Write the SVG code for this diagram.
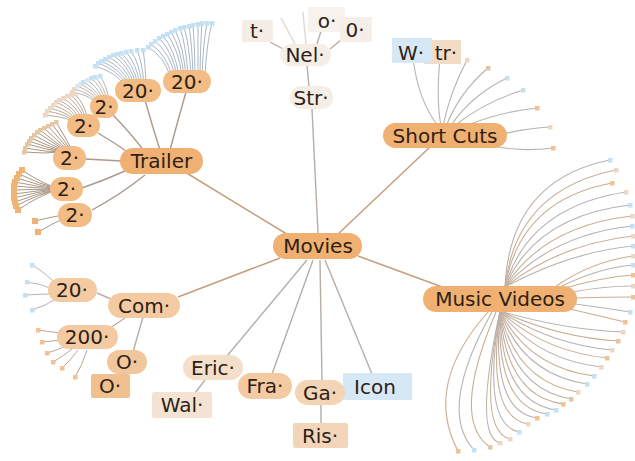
<svg xmlns="http://www.w3.org/2000/svg" width="635" height="461" viewBox="0 0 635 461">
<style>
.e{fill:none;stroke:#C49F7E;stroke-width:1.5}
.g{fill:none;stroke:#B7AEA6;stroke-width:1.4}
.gl{fill:none;stroke:#DDD6CF;stroke-width:1.3}
.tc{fill:none;stroke:#A89A8C;stroke-width:1.4}
.fb{fill:none;stroke:#A9B7C4;stroke-width:1}
.fc{fill:none;stroke:#B9B3AD;stroke-width:1}
.fd{fill:none;stroke:#B8A898;stroke-width:1}
.fe{fill:none;stroke:#A8957F;stroke-width:1}
.ff{fill:none;stroke:#A89886;stroke-width:1}
.f1{fill:none;stroke:#B8B2AC;stroke-width:1.1}
.f2{fill:none;stroke:#C9AE94;stroke-width:1.1}
.t{font-family:"DejaVu Sans","Liberation Sans",sans-serif;font-size:20px;fill:#2E2116;text-anchor:middle}
.o{fill:#EFB071}
.o2{fill:#F2BC84}
.l{fill:#F3CAA2}
.b{fill:#F4DFCB}
.w{fill:#F4EEE7}
.bl{fill:#D6E8F5}
</style>
<defs>
<marker id="mb" markerWidth="5" markerHeight="5" refX="2.5" refY="2.5" markerUnits="userSpaceOnUse"><rect width="5" height="5" fill="#C4E0F3"/></marker>
<marker id="mp" markerWidth="5" markerHeight="5" refX="2.5" refY="2.5" markerUnits="userSpaceOnUse"><rect width="5" height="5" fill="#DDE6EC"/></marker>
<marker id="mk" markerWidth="5" markerHeight="5" refX="2.5" refY="2.5" markerUnits="userSpaceOnUse"><rect width="5" height="5" fill="#EBD8C4"/></marker>
<marker id="mt" markerWidth="5" markerHeight="5" refX="2.5" refY="2.5" markerUnits="userSpaceOnUse"><rect width="5" height="5" fill="#E3C6A4"/></marker>
<marker id="mo" markerWidth="5" markerHeight="5" refX="2.5" refY="2.5" markerUnits="userSpaceOnUse"><rect width="5" height="5" fill="#F2C391"/></marker>
<marker id="mO" markerWidth="6" markerHeight="6" refX="3" refY="3" markerUnits="userSpaceOnUse"><rect width="6" height="6" fill="#EFB374"/></marker>
</defs>

<g id="connectors">
<path class="e" d="M290,236 L185,172"/>
<path class="e" d="M337,235 L430,147"/>
<path class="e" d="M358,256 L445,288"/>
<path class="e" d="M280,258 L178,297"/>
<path class="g" d="M312,109 L318,233"/>
<path class="g" d="M307,260 L227,356"/>
<path class="g" d="M313,260 L272,374"/>
<path class="g" d="M320,260 L322,381"/>
<path class="g" d="M325,260 L372,374"/>
<path class="g" d="M321,405 L321,424"/>
<path class="g" d="M205,380 L195,393"/>
<path class="g" d="M270,42 L287,51"/>
<path class="gl" d="M281,18 L296,46"/>
<path class="gl" d="M303,12 L306,46"/>
<path class="g" d="M322,28 L316,47"/>
<path class="g" d="M341,40 L330,49"/>
<path class="g" d="M307,65 L309,87"/>
<path class="g" d="M97,293 L111,299"/>
<path class="g" d="M125,318 L110,328"/>
<path class="g" d="M143,317 L133,352"/>
<g class="fc">
<path d="M60,288 Q45,272 32,265" marker-end="url(#mb)"/>
<path d="M55,290 Q40,283 27,282" marker-end="url(#mb)"/>
<path d="M55,294 Q40,294 25,295" marker-end="url(#mb)"/>
<path d="M58,298 Q45,306 32,310" marker-end="url(#mb)"/>
</g>
<g class="fd">
<path d="M60,333 L38,330" marker-end="url(#mo)"/>
<path d="M62,340 Q52,341 42,342" marker-end="url(#mo)"/>
<path d="M66,346 Q55,351 47,353" marker-end="url(#mo)"/>
<path d="M72,349 Q62,357 53,362" marker-end="url(#mo)"/>
<path d="M78,350 Q70,361 62,368" marker-end="url(#mo)"/>
<path d="M87,350 Q82,366 75,377" marker-end="url(#mo)"/>
</g>
<path class="tc" d="M170,150 Q178,120 186,92"/>
<path class="tc" d="M160,150 Q152,125 145,100"/>
<path class="tc" d="M145,152 Q128,130 112,114"/>
<path class="tc" d="M132,155 Q115,143 98,133"/>
<path class="tc" d="M122,161 L85,159"/>
<path class="tc" d="M125,171 Q105,180 82,188"/>
<path class="tc" d="M145,175 Q120,195 92,210"/>
<g class="fb">
<path d="M170,76 Q164.5,57.2 148,47" marker-end="url(#mb)"/>
<path d="M172,76 Q166.8,55.2 151,44" marker-end="url(#mb)"/>
<path d="M175,76 Q170,53.3 155,41" marker-end="url(#mb)"/>
<path d="M177,76 Q172.5,51.3 159,38" marker-end="url(#mb)"/>
<path d="M179,76 Q175,50 163,36" marker-end="url(#mb)"/>
<path d="M182,76 Q178.3,48.7 167,34" marker-end="url(#mb)"/>
<path d="M184,76 Q180.8,47.4 171,32" marker-end="url(#mb)"/>
<path d="M186,76 Q183.3,46.1 175,30" marker-end="url(#mb)"/>
<path d="M188,76 Q186,44.8 180,28" marker-end="url(#mb)"/>
<path d="M191,76 Q189.3,44.2 184,27" marker-end="url(#mb)"/>
<path d="M193,76 Q192,43.5 189,26" marker-end="url(#mb)"/>
<path d="M195,76 Q194.5,42.9 193,25" marker-end="url(#mb)"/>
<path d="M198,76 Q198,42.2 198,24" marker-end="url(#mb)"/>
<path d="M200,76 Q200.5,41.6 202,23" marker-end="url(#mb)"/>
<path d="M202,76 Q203.3,41.6 207,23" marker-end="url(#mb)"/>
<path d="M205,76 Q206.8,41.6 212,23" marker-end="url(#mb)"/>
</g>
<g class="fb">
<path d="M124,85 Q116.8,72.7 95,66" marker-end="url(#mb)"/>
<path d="M126,85 Q119,70.7 98,63" marker-end="url(#mb)"/>
<path d="M128,85 Q121.3,69.4 101,61" marker-end="url(#mb)"/>
<path d="M130,85 Q123.8,68.1 105,59" marker-end="url(#mb)"/>
<path d="M132,85 Q126.3,66.8 109,57" marker-end="url(#mb)"/>
<path d="M134,85 Q128.8,65.5 113,55" marker-end="url(#mb)"/>
<path d="M136,85 Q131.3,64.9 117,54" marker-end="url(#mb)"/>
<path d="M138,85 Q133.8,64.2 121,53" marker-end="url(#mb)"/>
<path d="M140,85 Q136.5,63.6 126,52" marker-end="url(#mb)"/>
<path d="M142,85 Q139.3,62.9 131,51" marker-end="url(#mb)"/>
<path d="M144,85 Q142.3,62.3 137,50" marker-end="url(#mb)"/>
<path d="M146,85 Q145.3,62.3 143,50" marker-end="url(#mb)"/>
</g>
<g class="fc">
<path d="M93,100 Q87.8,95.2 72,92" marker-end="url(#mk)"/>
<path d="M95,100 Q89.8,93.4 74,89" marker-end="url(#mk)"/>
<path d="M97,100 Q92,91.6 77,86" marker-end="url(#mp)"/>
<path d="M99,100 Q94.3,90.4 80,84" marker-end="url(#mp)"/>
<path d="M101,100 Q96.5,89.2 83,82" marker-end="url(#mb)"/>
<path d="M103,100 Q99,88 87,80" marker-end="url(#mp)"/>
<path d="M105,100 Q101.5,86.8 91,78" marker-end="url(#mb)"/>
<path d="M107,100 Q104,86.2 95,77" marker-end="url(#mb)"/>
<path d="M109,100 Q106.8,85.6 100,76" marker-end="url(#mb)"/>
</g>
<g class="fd">
<path d="M70,120 Q63.8,117 45,115" marker-end="url(#mk)"/>
<path d="M72,120 Q65.8,114.6 47,111" marker-end="url(#mk)"/>
<path d="M74,120 Q68,112.8 50,108" marker-end="url(#mk)"/>
<path d="M76,120 Q70.3,111 53,105" marker-end="url(#mk)"/>
<path d="M78,120 Q72.5,109.2 56,102" marker-end="url(#mk)"/>
<path d="M80,120 Q74.8,108 59,100" marker-end="url(#mk)"/>
<path d="M82,120 Q77.3,106.8 63,98" marker-end="url(#mk)"/>
<path d="M84,120 Q79.8,105.6 67,96" marker-end="url(#mk)"/>
<path d="M86,120 Q82.3,105 71,95" marker-end="url(#mk)"/>
<path d="M88,120 Q84.8,104.4 75,94" marker-end="url(#mk)"/>
</g>
<g class="fe">
<path d="M62,152 Q45,154 24,152" marker-end="url(#mt)"/>
<path d="M63,152 Q46,152 25,148" marker-end="url(#mt)"/>
<path d="M64,152 Q47.5,150 27,144" marker-end="url(#mt)"/>
<path d="M65,152 Q49,148.5 29,141" marker-end="url(#mt)"/>
<path d="M66,152 Q50.5,147 31,138" marker-end="url(#mt)"/>
<path d="M67,152 Q52.5,145.5 34,135" marker-end="url(#mt)"/>
<path d="M68,152 Q54.5,144 37,132" marker-end="url(#mt)"/>
<path d="M69,152 Q56.5,143 40,130" marker-end="url(#mt)"/>
<path d="M70,152 Q59,142 44,128" marker-end="url(#mt)"/>
<path d="M71,152 Q61.5,141 48,126" marker-end="url(#mt)"/>
<path d="M72,152 Q64,140 52,124" marker-end="url(#mt)"/>
<path d="M73,152 Q66.5,139 56,122" marker-end="url(#mt)"/>
</g>
<g class="ff">
<path d="M60,189 Q41,183.3 22,170" marker-end="url(#mO)"/>
<path d="M60,189 Q39.5,184.5 19,174" marker-end="url(#mO)"/>
<path d="M60,189 Q38.5,185.7 17,178" marker-end="url(#mO)"/>
<path d="M60,189 Q37.5,186.9 15,182" marker-end="url(#mO)"/>
<path d="M60,189 Q37,188.1 14,186" marker-end="url(#mO)"/>
<path d="M60,189 Q37,189.3 14,190" marker-end="url(#mO)"/>
<path d="M60,189 Q37,190.5 14,194" marker-end="url(#mO)"/>
<path d="M60,189 Q37,191.7 14,198" marker-end="url(#mO)"/>
<path d="M60,189 Q37.5,192.9 15,202" marker-end="url(#mO)"/>
<path d="M60,189 Q38,194.1 16,206" marker-end="url(#mO)"/>
<path d="M60,189 Q39,195.3 18,210" marker-end="url(#mO)"/>
</g>
<g class="ff">
<path d="M70,214 Q55,216 35,221" marker-end="url(#mO)"/>
<path d="M70,216 Q55,222 38,232" marker-end="url(#mO)"/>
</g>
<g class="f1">
<path d="M438,126 Q418,100 413,58"/>
<path d="M441,126 Q436,100 440,58"/>
<path d="M443,126 Q450,92 467,60" marker-end="url(#mk)"/>
<path d="M447,124 Q460,92 488,68" marker-end="url(#mt)"/>
<path d="M452,124 Q472,95 507,78" marker-end="url(#mb)"/>
<path d="M457,124 Q485,102 523,90" marker-end="url(#mb)"/>
<path d="M468,125 Q500,112 537,108" marker-end="url(#mo)"/>
<path d="M503,134 Q528,128 550,127" marker-end="url(#mk)"/>
<path d="M493,146 Q520,152 553,148" marker-end="url(#mo)"/>
</g>
<g>
<path class="f1" d="M505,287 Q510,180 610,160" marker-end="url(#mb)"/>
<path class="f2" d="M505,287 Q516,190 616,170" marker-end="url(#mk)"/>
<path class="f2" d="M505,287 Q520,200 612,183" marker-end="url(#mo)"/>
<path class="f1" d="M505,287 Q528,207 626,192" marker-end="url(#mk)"/>
<path class="f1" d="M505,287 Q535,216 630,205" marker-end="url(#mb)"/>
<path class="f2" d="M505,287 Q543,226 632,216" marker-end="url(#mk)"/>
<path class="f1" d="M505,287 Q551,235 632,226" marker-end="url(#mb)"/>
<path class="f2" d="M505,287 Q560,244 633,236" marker-end="url(#mk)"/>
<path class="f1" d="M505,287 Q570,252 633,246" marker-end="url(#mb)"/>
<path class="f2" d="M555,287 Q590,262 633,256" marker-end="url(#mk)"/>
<path class="f1" d="M560,287 Q598,268 633,265" marker-end="url(#mb)"/>
<path class="f2" d="M565,288 Q604,277 633,275" marker-end="url(#mo)"/>
<path class="f1" d="M572,292 Q605,286 633,286" marker-end="url(#mk)"/>
<path class="f2" d="M576,298 Q605,297 633,297" marker-end="url(#mo)"/>
<path class="f1" d="M575,304 Q605,308 630,312" marker-end="url(#mb)"/>
<path class="f2" d="M570,309 Q600,316 625,322" marker-end="url(#mo)"/>
<path class="f1" d="M500,311 Q565,330 623,332" marker-end="url(#mk)"/>
<path class="f2" d="M500,311 Q557,337 618,341" marker-end="url(#mt)"/>
<path class="f1" d="M500,311 Q550,344 612,350" marker-end="url(#mk)"/>
<path class="f2" d="M500,311 Q542,351 607,358" marker-end="url(#mo)"/>
<path class="f1" d="M500,311 Q535,359 601,367" marker-end="url(#mk)"/>
<path class="f2" d="M500,311 Q528,367 594,376" marker-end="url(#mb)"/>
<path class="f1" d="M500,311 Q522,374 587,384" marker-end="url(#mb)"/>
<path class="f2" d="M500,311 Q516,382 578,392" marker-end="url(#mk)"/>
<path class="f1" d="M500,311 Q511,389 571,399" marker-end="url(#mt)"/>
<path class="f2" d="M500,311 Q506,396 563,404" marker-end="url(#mo)"/>
<path class="f1" d="M500,311 Q501,402 556,410" marker-end="url(#mb)"/>
<path class="f2" d="M500,311 Q496,407 547,414" marker-end="url(#mb)"/>
<path class="f1" d="M500,311 Q491,412 537,418" marker-end="url(#mo)"/>
<path class="f2" d="M500,311 Q486,417 528,424" marker-end="url(#mk)"/>
<path class="f1" d="M500,311 Q481,424 519,432" marker-end="url(#mb)"/>
<path class="f2" d="M500,311 Q477,431 510,439" marker-end="url(#mk)"/>
<path class="f1" d="M500,311 Q473,436 500,443" marker-end="url(#mk)"/>
<path class="f2" d="M496,312 Q450,420 490,447" marker-end="url(#mt)"/>
<path class="f1" d="M492,312 Q437,410 474,450" marker-end="url(#mb)"/>
<path class="f2" d="M488,312 Q423,385 458,451" marker-end="url(#mo)"/>
</g>
</g>

<g id="node-o"><rect x="308" y="7" width="37" height="25" fill="#F7F2ED"/><text class="t" x="327" y="28">o·</text></g>
<g id="node-0"><rect x="340" y="17" width="32" height="25" fill="#F6EFE9"/><text class="t" x="355" y="37">0·</text></g>
<g id="node-t"><rect x="242" y="20" width="31" height="22" rx="2" fill="#F4EDE5"/><text class="t" x="257" y="38">t·</text></g>
<g id="node-nel"><rect class="w" x="280" y="44" width="51" height="22" rx="11"/><text class="t" x="305" y="62">Nel·</text></g>
<g id="node-str"><rect class="w" x="290" y="86" width="43" height="23" rx="11"/><text class="t" x="311" y="105">Str·</text></g>

<g id="node-trailer"><rect class="o" x="120" y="148" width="83" height="26" rx="13"/><text class="t" x="161.5" y="168">Trailer</text></g>
<g id="node-t20a"><rect class="o2" x="163" y="70" width="48" height="23" rx="11.5"/><text class="t" x="187" y="88.5">20·</text></g>
<g id="node-t20b"><rect class="o2" x="115" y="79" width="46" height="23" rx="11.5"/><text class="t" x="138" y="97.5">20·</text></g>
<g id="node-t2a"><rect class="o2" x="90" y="95" width="28" height="23" rx="11.5"/><text class="t" x="104" y="113.5">2·</text></g>
<g id="node-t2b"><rect class="o2" x="67" y="114" width="33" height="23" rx="11.5"/><text class="t" x="83.5" y="132.5">2·</text></g>
<g id="node-t2c"><rect class="o2" x="53" y="146" width="33" height="24" rx="12"/><text class="t" x="69.5" y="165">2·</text></g>
<g id="node-t2d"><rect class="o2" x="50" y="177" width="33" height="24" rx="12"/><text class="t" x="66.5" y="196">2·</text></g>
<g id="node-t2e"><rect class="o2" x="58" y="203" width="34" height="24" rx="12"/><text class="t" x="75" y="222">2·</text></g>

<g id="node-tr"><rect x="424" y="40" width="37" height="24" fill="#F3DCC6"/><text class="t" x="446" y="60">tr·</text></g>
<g id="node-w"><rect class="bl" x="392" y="38" width="40" height="25"/><text class="t" x="411" y="60">W·</text></g>
<g id="node-shortcuts"><rect class="o" x="383" y="123" width="124" height="25" rx="12.5"/><text class="t" x="445" y="142.5">Short Cuts</text></g>

<g id="node-movies"><rect class="o" x="273" y="233" width="89" height="26" rx="13"/><text class="t" x="318" y="253">Movies</text></g>

<g id="node-musicvideos"><rect class="o" x="423" y="286" width="154" height="26" rx="13"/><text class="t" x="500" y="306">Music Videos</text></g>

<g id="node-com"><rect class="l" x="108" y="293" width="72" height="25" rx="12.5"/><text class="t" x="144" y="313">Com·</text></g>
<g id="node-c20"><rect class="l" x="48" y="278" width="49" height="24" rx="12"/><text class="t" x="72" y="297">20·</text></g>
<g id="node-c200"><rect class="l" x="57" y="325" width="61" height="24" rx="12"/><text class="t" x="87" y="344">200·</text></g>
<g id="node-o-rect"><rect x="91" y="374" width="39" height="24" rx="2" fill="#F0C18F"/><text class="t" x="110" y="393">O·</text></g>
<g id="node-o-pill"><rect x="107" y="350" width="40" height="24" rx="12" fill="#F2C69C"/><text class="t" x="127" y="369">O·</text></g>

<g id="node-wal"><rect x="152" y="392" width="60" height="26" rx="2" fill="#F4E3D3"/><text class="t" x="182" y="412">Wal·</text></g>
<g id="node-eric"><rect class="b" x="183" y="355" width="60" height="25" rx="12.5"/><text class="t" x="213" y="374.5">Eric·</text></g>
<g id="node-fra"><rect class="l" x="238" y="373" width="54" height="26" rx="13"/><text class="t" x="265" y="393">Fra·</text></g>
<g id="node-icon"><rect class="bl" x="343" y="373" width="69" height="27"/><text class="t" x="375" y="393.5">Icon</text></g>
<g id="node-ga"><rect x="295" y="380" width="50" height="25" rx="12.5" fill="#F3D4B5"/><text class="t" x="320" y="399.5">Ga·</text></g>
<g id="node-ris"><rect x="293" y="423" width="55" height="25" rx="2" fill="#F3D6BA"/><text class="t" x="320" y="442.5">Ris·</text></g>
</svg>
